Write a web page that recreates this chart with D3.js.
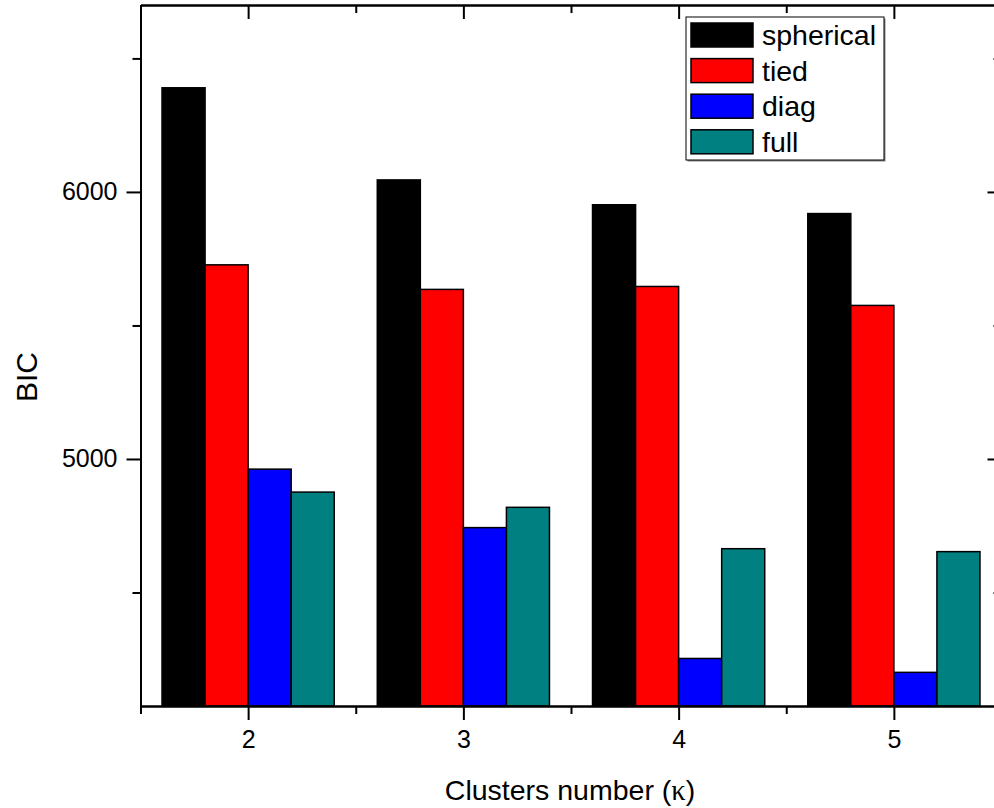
<!DOCTYPE html>
<html>
<head>
<meta charset="utf-8">
<script src="https://cdn.jsdelivr.net/npm/d3@7"></script>
<style>
  html, body { margin: 0; padding: 0; background: #fff; }
  svg { display: block; }
  text { font-family: "Liberation Sans", Arial, sans-serif; fill: #000; }
</style>
</head>
<body>
<svg id="chart" width="994" height="808"></svg>
<script>
// Cluster counts on the x axis
const clusters = [2, 3, 4, 5];
// Covariance types and their fill colours
const seriesNames = ["spherical", "tied", "diag", "full"];
const seriesColors = ["#000000", "#ff0000", "#0000ff", "#008080"];
// BIC per covariance type, one value per cluster count
const spherical = [6390, 6045, 5952, 5919];
const tied = [5727, 5635, 5646, 5575];
const diag = [4962, 4743, 4253, 4201];
const full = [4876, 4819, 4664, 4653];
// Axis ticks
const yMajorTicks = [5000, 6000];
const yMinorTicks = [4500, 5500, 6500];
const xMajorTicks = [2, 3, 4, 5];
const xMinorTicks = [1.5, 2.5, 3.5, 4.5, 5.5];

const seriesValues = [spherical, tied, diag, full];

const svg = d3.select("#chart");
const plotLeft = 140.5, plotRight = 1001.5, plotTop = 5, plotBottom = 706;

const x = d3.scaleLinear().domain([1.5, 5.5]).range([plotLeft, plotRight]);
const y = d3.scaleLinear().domain([4075, 6700]).range([plotBottom, plotTop]);
const barW = 0.2;

// Bars
const bars = svg.append("g");
seriesValues.forEach((vals, si) => {
  bars.selectAll(null)
    .data(clusters.map((c, i) => ({ c, v: vals[i] })))
    .join("rect")
    .attr("x", d => x(d.c - 0.4 + barW * si))
    .attr("width", d => x(d.c - 0.4 + barW * (si + 1)) - x(d.c - 0.4 + barW * si))
    .attr("y", d => y(d.v))
    .attr("height", d => y.range()[0] - y(d.v))
    .attr("fill", seriesColors[si])
    .attr("stroke", "#000")
    .attr("stroke-width", 1.5);
});

// Shared axis styling
function styleAxis(g, fontSize) {
  g.selectAll("path").attr("stroke", "#000").attr("stroke-width", 2);
  g.selectAll("line").attr("stroke", "#000").attr("stroke-width", 2);
  g.selectAll("text").attr("font-size", fontSize).attr("font-family", "Liberation Sans, Arial, sans-serif").attr("fill", "#000");
}

const fmt = d3.format("d");
const tickFont = 25;

// Left axis
svg.append("g").attr("transform", `translate(${plotLeft},0)`)
  .call(d3.axisLeft(y).tickValues(yMajorTicks).tickSize(14).tickSizeOuter(0).tickPadding(9).tickFormat(fmt))
  .call(g => styleAxis(g, tickFont));
svg.append("g").attr("transform", `translate(${plotLeft},0)`)
  .call(d3.axisLeft(y).tickValues(yMinorTicks).tickSize(8).tickSizeOuter(0).tickFormat(""))
  .call(g => styleAxis(g, tickFont));

// Right axis (ticks inward)
svg.append("g").attr("transform", `translate(${plotRight},0)`)
  .call(d3.axisRight(y).tickValues(yMajorTicks).tickSize(-14).tickSizeOuter(0).tickFormat(""))
  .call(g => styleAxis(g, tickFont));
svg.append("g").attr("transform", `translate(${plotRight},0)`)
  .call(d3.axisRight(y).tickValues(yMinorTicks).tickSize(-8).tickSizeOuter(0).tickFormat(""))
  .call(g => styleAxis(g, tickFont));

// Bottom axis
svg.append("g").attr("transform", `translate(0,${plotBottom})`)
  .call(d3.axisBottom(x).tickValues(xMajorTicks).tickSize(14).tickSizeOuter(0).tickPadding(10).tickFormat(fmt))
  .call(g => styleAxis(g, tickFont));
svg.append("g").attr("transform", `translate(0,${plotBottom})`)
  .call(d3.axisBottom(x).tickValues(xMinorTicks).tickSize(8).tickSizeOuter(0).tickFormat(""))
  .call(g => styleAxis(g, tickFont));

// Top axis (ticks inward)
svg.append("g").attr("transform", `translate(0,${plotTop})`)
  .call(d3.axisTop(x).tickValues(xMajorTicks).tickSize(-14).tickSizeOuter(0).tickFormat(""))
  .call(g => styleAxis(g, tickFont));
svg.append("g").attr("transform", `translate(0,${plotTop})`)
  .call(d3.axisTop(x).tickValues(xMinorTicks).tickSize(-8).tickSizeOuter(0).tickFormat(""))
  .call(g => styleAxis(g, tickFont));

// Axis titles
const xTitle = svg.append("text")
  .attr("x", 570).attr("y", 800)
  .attr("text-anchor", "middle")
  .attr("font-size", 28.5);
xTitle.append("tspan").text("Clusters number (");
xTitle.append("tspan").attr("font-family", "Liberation Serif, Times New Roman, serif").text("κ");
xTitle.append("tspan").text(")");

svg.append("text")
  .attr("transform", "translate(37,377) rotate(-90)")
  .attr("text-anchor", "middle")
  .attr("font-size", 30)
  .text("BIC");

// Legend
const legend = svg.append("g").attr("transform", "translate(686,17)");
legend.append("rect")
  .attr("x", 1.5).attr("y", 1.5).attr("width", 198).attr("height", 143)
  .attr("fill", "#888");
legend.append("rect")
  .attr("x", 0).attr("y", 0).attr("width", 198).attr("height", 143)
  .attr("fill", "#fff").attr("stroke", "#000").attr("stroke-width", 1);
seriesNames.forEach((name, i) => {
  const gy = 6 + i * 35.6;
  legend.append("rect")
    .attr("x", 5).attr("y", gy).attr("width", 62).attr("height", 24)
    .attr("fill", seriesColors[i]).attr("stroke", "#000").attr("stroke-width", 1.5);
  legend.append("text")
    .attr("x", 76).attr("y", gy + 22)
    .attr("font-size", 28.5)
    .text(name);
});
</script>
</body>
</html>
